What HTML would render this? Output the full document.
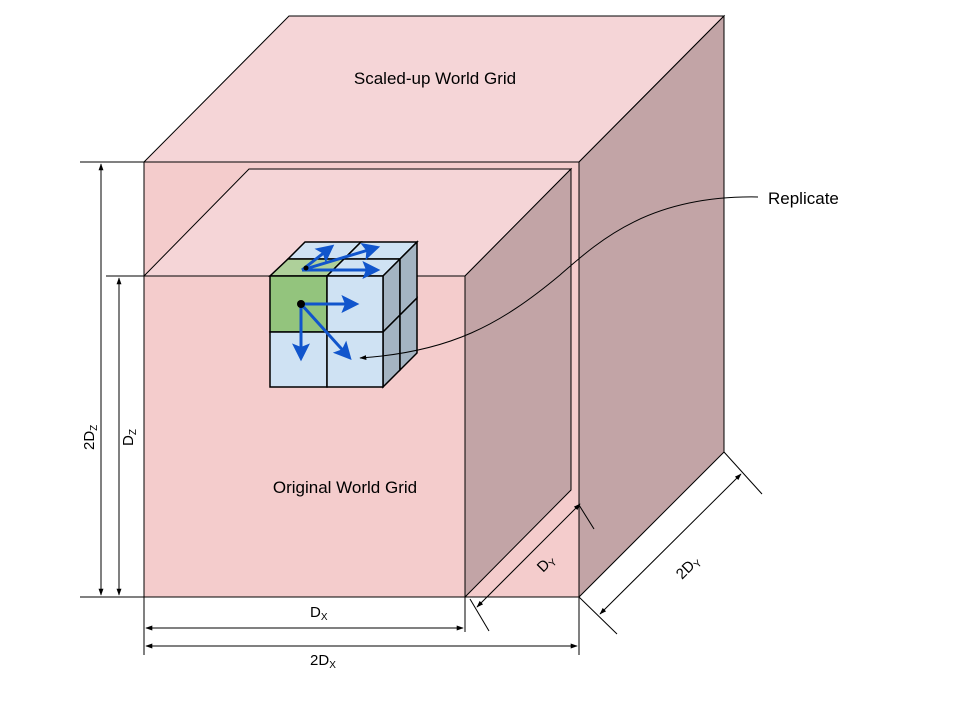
<!DOCTYPE html>
<html><head><meta charset="utf-8"><style>
body{margin:0;background:#fff}
svg{display:block;font-family:"Liberation Sans",Arial,sans-serif}
</style></head><body>
<svg width="960" height="720" viewBox="0 0 960 720">
<defs>
<marker id="ah" viewBox="0 0 10 10" refX="9" refY="5" markerWidth="7" markerHeight="7" orient="auto-start-reverse"><path d="M0,1.5 L10,5 L0,8.5 Z" fill="#000"/></marker>
<marker id="bh" viewBox="0 0 10 10" refX="7" refY="5" markerWidth="6" markerHeight="6" orient="auto"><path d="M0,0 L10,5 L0,10 L2,5 Z" fill="#1155cc"/></marker>
</defs>
<g stroke="#000" stroke-width="1">
<polygon points="144,162 289,16 724,16 579,162" fill="#f5d5d7"/>
<polygon points="579,162 724,16 724,452 579,597" fill="#c2a4a6"/>
<rect x="144" y="162" width="435" height="435" fill="#f4cccc"/>
</g>
<g stroke="#000" stroke-width="1">
<polygon points="144,276 249,169 571,169 465,276" fill="#f5d5d7"/>
<polygon points="465,276 571,169 571,490 465,597" fill="#c2a4a6"/>
<rect x="144" y="276" width="321" height="321" fill="#f4cccc"/>
</g>
<text x="435" y="84" font-size="17" text-anchor="middle">Scaled-up World Grid</text>
<text x="345" y="493" font-size="17" text-anchor="middle">Original World Grid</text>
<g stroke="#000" stroke-width="1.5">
<polygon points="305,242 361,242 344,259 288,259" fill="#cfe2f3"/>
<polygon points="361,242 417,242 400,259 344,259" fill="#cfe2f3"/>
<polygon points="288,259 344,259 327,276 270,276" fill="#aed09a"/>
<polygon points="344,259 400,259 383,276 327,276" fill="#cfe2f3"/>
<polygon points="383,276 400,259 400,315 383,332" fill="#a4b4c2"/>
<polygon points="400,259 417,242 417,298 400,315" fill="#a4b4c2"/>
<polygon points="383,332 400,315 400,370 383,387" fill="#a4b4c2"/>
<polygon points="400,315 417,298 417,353 400,370" fill="#a4b4c2"/>
<rect x="270" y="276" width="57" height="56" fill="#93c47d"/>
<rect x="327" y="276" width="56" height="56" fill="#cfe2f3"/>
<rect x="270" y="332" width="57" height="55" fill="#cfe2f3"/>
<rect x="327" y="332" width="56" height="55" fill="#cfe2f3"/>
</g>
<g stroke="#1155cc" stroke-width="3" fill="none" marker-end="url(#bh)">
<line x1="302" y1="270" x2="375" y2="270"/>
<line x1="302" y1="270" x2="375" y2="248"/>
<line x1="302" y1="270" x2="330" y2="248"/>
<line x1="301" y1="304" x2="354" y2="304"/>
<line x1="301" y1="304" x2="301" y2="356"/>
<line x1="301" y1="304" x2="348" y2="356"/>
</g>
<circle cx="301" cy="304" r="4" fill="#000"/>
<circle cx="306" cy="268" r="2.5" fill="#000"/>
<text x="768" y="204" font-size="17">Replicate</text>
<path d="M758,197 C650,195 600,240 560,275 C500,325 450,352 360,358" fill="none" stroke="#000" stroke-width="1" marker-end="url(#ah)"/>
<g stroke="#000" stroke-width="1" fill="none">
<line x1="80" y1="162" x2="144" y2="162"/>
<line x1="80" y1="597" x2="144" y2="597"/>
<line x1="106" y1="276" x2="144" y2="276"/>
<line x1="101" y1="164" x2="101" y2="595" marker-start="url(#ah)" marker-end="url(#ah)"/>
<line x1="119" y1="278" x2="119" y2="595" marker-start="url(#ah)" marker-end="url(#ah)"/>
<line x1="144" y1="597" x2="144" y2="655"/>
<line x1="465" y1="597" x2="465" y2="632"/>
<line x1="579" y1="597" x2="579" y2="655"/>
<line x1="146" y1="628" x2="463" y2="628" marker-start="url(#ah)" marker-end="url(#ah)"/>
<line x1="146" y1="646" x2="577" y2="646" marker-start="url(#ah)" marker-end="url(#ah)"/>
<line x1="470" y1="599" x2="489" y2="631"/>
<line x1="579" y1="505" x2="594" y2="529"/>
<line x1="477" y1="607" x2="580" y2="504" marker-start="url(#ah)" marker-end="url(#ah)"/>
<line x1="579" y1="597" x2="617" y2="634"/>
<line x1="724" y1="452" x2="762" y2="494"/>
<line x1="600" y1="614" x2="741" y2="474" marker-start="url(#ah)" marker-end="url(#ah)"/>
</g>
<g font-size="15">
<text transform="translate(94,450) rotate(-90)">2D<tspan font-size="10" dy="3">Z</tspan></text>
<text transform="translate(133,446) rotate(-90)">D<tspan font-size="10" dy="3">Z</tspan></text>
<text x="310" y="617">D<tspan font-size="10" dy="3">X</tspan></text>
<text x="310" y="665">2D<tspan font-size="10" dy="3">X</tspan></text>
<text transform="translate(543,573) rotate(-45)">D<tspan font-size="10" dy="3">Y</tspan></text>
<text transform="translate(682,580) rotate(-45)">2D<tspan font-size="10" dy="3">Y</tspan></text>
</g>
</svg>
</body></html>
